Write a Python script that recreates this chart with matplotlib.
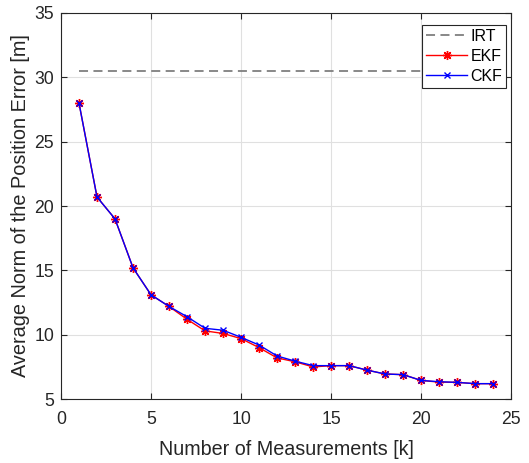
import matplotlib
matplotlib.use("Agg")
import matplotlib.pyplot as plt
import numpy as np

plt.rcParams['font.family'] = ['Liberation Sans', 'DejaVu Sans']

k = list(range(1, 25))
ekf = [28.0, 20.7, 19.0, 15.2, 13.1, 12.2, 11.2, 10.3, 10.1, 9.7, 9.0, 8.2,
       7.9, 7.5, 7.6, 7.6, 7.25, 6.95, 6.9, 6.45, 6.32, 6.3, 6.2, 6.2]
ckf = [28.0, 20.7, 19.0, 15.2, 13.1, 12.2, 11.4, 10.5, 10.35, 9.8, 9.2, 8.35,
       7.95, 7.6, 7.6, 7.6, 7.25, 6.95, 6.9, 6.45, 6.35, 6.3, 6.2, 6.2]
irt_value = 30.5

fig = plt.figure(figsize=(5.29, 4.63), dpi=100)
ax = fig.add_axes([0.1153, 0.138, 0.851, 0.834])

ax.plot([k[0], k[-1]], [irt_value, irt_value], linestyle=(0, (5, 3)), color='#7f7f7f',
        linewidth=1.3, label='IRT')
ax.plot(k, ekf, color='red', marker=(8, 2, 0), markersize=6.5, markeredgewidth=1.0,
        linewidth=1.0, label='EKF')
ax.plot(k, ckf, color='blue', marker='x', markersize=4.5, markeredgewidth=1.0,
        linewidth=1.0, label='CKF')

ax.set_xlim(0, 25)
ax.set_ylim(5, 35)
ax.set_xticks(range(0, 26, 5))
ax.set_yticks(range(5, 36, 5))
ax.grid(True, color='#e0e0e0', linewidth=0.8)
ax.set_axisbelow(True)
ax.tick_params(direction='in', top=True, right=True, labelsize=12.7, colors='#262626',
               length=4)
ax.tick_params(axis='x', pad=8.5)
ax.tick_params(axis='y', pad=5)
for s in ax.spines.values():
    s.set_color('#262626')
    s.set_linewidth(0.8)
ax.set_xlabel('Number of Measurements [k]', fontsize=14.2, color='#262626', labelpad=9)
ax.set_ylabel('Average Norm of the Position Error [m]', fontsize=14.3, color='#262626',
              labelpad=3)

leg = ax.legend(loc='upper right', bbox_to_anchor=(0.989, 0.969), fontsize=11.5,
                fancybox=False, framealpha=1, edgecolor='#262626', borderpad=0.25,
                labelspacing=0.3, handlelength=2.55, handletextpad=0.2,
                borderaxespad=0, numpoints=1)
leg.get_frame().set_linewidth(0.8)

fig.savefig('out.png', dpi=100)
